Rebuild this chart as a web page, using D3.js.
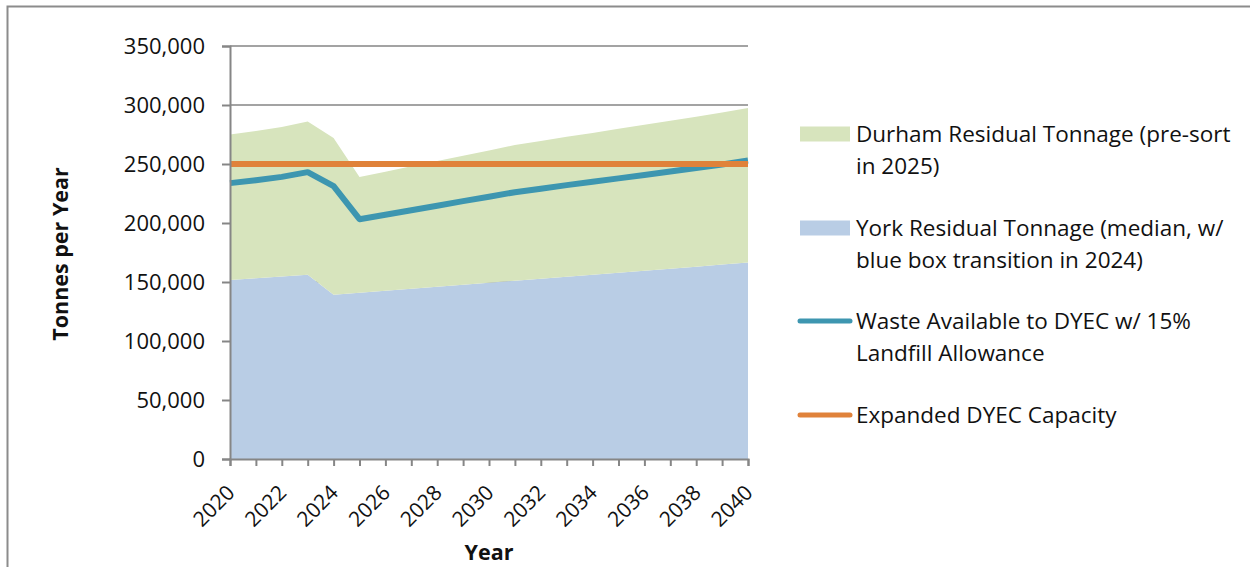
<!DOCTYPE html>
<html>
<head>
<meta charset="utf-8">
<script src="https://cdn.jsdelivr.net/npm/d3@7"></script>
<style>
  html, body { margin: 0; padding: 0; background: #ffffff; }
  svg { display: block; font-family: "Open Sans", "Noto Sans", sans-serif; }
</style>
</head>
<body>
<svg id="chart" width="1250" height="567"></svg>
<script>
// Annual projections, tonnes per year
const years = d3.range(2020, 2041);
const yorkResidual = [151700, 153200, 154700, 156200, 139200, 140900, 142600, 144300, 146000, 147700, 149400,
  151100, 152800, 154500, 156200, 157900, 159600, 161300, 163000, 164800, 166600];
const durhamResidual = [123300, 124800, 126600, 129800, 132800, 98100, 100900, 103700, 106500, 109300, 112100,
  114900, 116700, 118500, 120100, 121900, 123600, 125400, 127100, 128800, 130900];
const wasteAvailable = [233800, 236300, 239100, 243100, 231200, 203200, 207000, 210800, 214600, 218500, 222300,
  226100, 229100, 232100, 234900, 237800, 240700, 243700, 246600, 249600, 252900];
const dyecCapacity = [250000, 250000, 250000, 250000, 250000, 250000, 250000, 250000, 250000, 250000, 250000,
  250000, 250000, 250000, 250000, 250000, 250000, 250000, 250000, 250000, 250000];

const yTicks = [0, 50000, 100000, 150000, 200000, 250000, 300000, 350000];
const xLabelYears = [2020, 2022, 2024, 2026, 2028, 2030, 2032, 2034, 2036, 2038, 2040];

const legendItems = [
  { kind: "area", color: "#d7e4bd", lines: ["Durham Residual Tonnage (pre-sort", "in 2025)"] },
  { kind: "area", color: "#b9cde5", lines: ["York Residual Tonnage (median, w/", "blue box transition in 2024)"] },
  { kind: "line", color: "#3d96b0", lines: ["Waste Available to DYEC w/ 15%", "Landfill Allowance"] },
  { kind: "line", color: "#e0823a", lines: ["Expanded DYEC Capacity"] }
];

const svg = d3.select("#chart");
const axisColor = "#868686";
const textColor = "#111111";

// outer frame
svg.append("rect")
  .attr("x", 7.5).attr("y", 6.5)
  .attr("width", 1260).attr("height", 580)
  .attr("fill", "none").attr("stroke", "#8c8c8c").attr("stroke-width", 2);

const x = d3.scaleLinear().domain([2020, 2040]).range([230, 748]);
const y = d3.scaleLinear().domain([0, 350000]).range([459, 46]);

// horizontal gridlines
svg.append("g").selectAll("line")
  .data(yTicks.filter(d => d > 0))
  .join("line")
  .attr("x1", x(2020)).attr("x2", x(2040))
  .attr("y1", d => y(d)).attr("y2", d => y(d))
  .attr("stroke", "#a3a3a3").attr("stroke-width", 2);

// stacked areas: York at the base, Durham on top
const table = years.map((yr, i) => ({ year: yr, york: yorkResidual[i], durham: durhamResidual[i] }));
const stacked = d3.stack().keys(["york", "durham"])(table);
const areaColors = { york: "#b9cde5", durham: "#d7e4bd" };
const area = d3.area()
  .x(d => x(d.data.year))
  .y0(d => y(d[0]))
  .y1(d => y(d[1]));

svg.append("g").selectAll("path")
  .data(stacked)
  .join("path")
  .attr("d", area)
  .attr("fill", s => areaColors[s.key]);

// lines
const line = d3.line().x((d, i) => x(years[i])).y(d => y(d));
svg.append("path")
  .attr("d", line(wasteAvailable))
  .attr("fill", "none").attr("stroke", "#3d96b0")
  .attr("stroke-width", 6).attr("stroke-linejoin", "round");
svg.append("path")
  .attr("d", line(dyecCapacity))
  .attr("fill", "none").attr("stroke", "#e0823a")
  .attr("stroke-width", 6);

// y axis
const yAxis = svg.append("g").attr("transform", `translate(${x(2020)},0)`)
  .call(d3.axisLeft(y).tickValues(yTicks).tickSize(8).tickPadding(17)
    .tickFormat(d3.format(",")));
yAxis.select(".domain").attr("stroke", axisColor).attr("stroke-width", 2);
yAxis.selectAll(".tick line").attr("stroke", axisColor).attr("stroke-width", 2);
yAxis.selectAll(".tick text")
  .attr("font-size", 22).attr("fill", textColor)
  .attr("font-family", "'Open Sans', sans-serif")
  .attr("dy", "0.36em");

// x axis
const xAxis = svg.append("g").attr("transform", `translate(0,${y(0)})`)
  .call(d3.axisBottom(x).tickValues(years).tickSize(7).tickFormat(""));
xAxis.select(".domain").attr("stroke", axisColor).attr("stroke-width", 2);
xAxis.selectAll(".tick line").attr("stroke", axisColor).attr("stroke-width", 2);

svg.append("g").selectAll("text")
  .data(xLabelYears)
  .join("text")
  .attr("transform", d => `translate(${x(d) + 6},${y(0) + 35}) rotate(-45)`)
  .attr("text-anchor", "end")
  .attr("font-size", 21).attr("fill", textColor)
  .text(d => d);

// axis titles
svg.append("text")
  .attr("transform", `translate(68,254) rotate(-90)`)
  .attr("text-anchor", "middle")
  .attr("font-size", 21.5).attr("font-weight", "bold").attr("fill", textColor)
  .text("Tonnes per Year");

svg.append("text")
  .attr("x", x(2030)).attr("y", 560)
  .attr("text-anchor", "middle")
  .attr("font-size", 21.5).attr("font-weight", "bold").attr("fill", textColor)
  .text("Year");

// legend
const legendTops = [134, 228, 321, 415];
const legend = svg.append("g");
legendItems.forEach((item, i) => {
  const cy = legendTops[i];
  if (item.kind === "area") {
    legend.append("rect")
      .attr("x", 800).attr("y", cy - 7.5).attr("width", 50).attr("height", 15)
      .attr("fill", item.color);
  } else {
    legend.append("line")
      .attr("x1", 800).attr("x2", 850).attr("y1", cy).attr("y2", cy)
      .attr("stroke", item.color).attr("stroke-width", 5)
      .attr("stroke-linecap", "round");
  }
  item.lines.forEach((t, j) => {
    legend.append("text")
      .attr("x", 856).attr("y", cy + 7.5 + j * 32)
      .attr("font-size", 22.5).attr("fill", textColor)
      .text(t);
  });
});
</script>
</body>
</html>
